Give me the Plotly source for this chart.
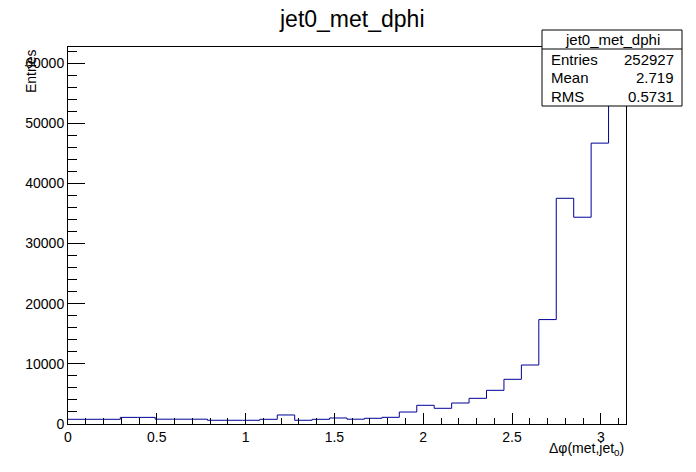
import numpy as np
import plotly.graph_objects as go

# histogram jet0_met_dphi: 32 bins between 0 and pi
N_BINS = 32
X_MIN, X_MAX = 0.0, np.pi
COUNTS = [780, 780, 780, 1100, 1100, 800, 800, 800, 620, 620, 620, 780,
          1500, 620, 780, 1000, 800, 950, 1110, 1990, 3110, 2610, 3490, 4270,
          5600, 7430, 9810, 17360, 37530, 34380, 46700, 59700]

HIST_NAME = "jet0_met_dphi"
STAT_LABELS = ["Entries", "Mean", "RMS"]
STAT_VALUES = ["252927", "2.719", "0.5731"]
X_TITLE = "\u0394\u03c6(met,jet<sub>0</sub>)"
Y_TITLE = "Entries"

W, H = 696, 472
L, R, T, B = 68, 70, 47, 48
FONT = "Liberation Sans, Arial, Helvetica, sans-serif"
LINE_COLOR = "#000099"

edges = np.linspace(X_MIN, X_MAX, N_BINS + 1)
y_step = COUNTS + [COUNTS[-1]]
y_top = max(COUNTS) * 1.05  # ROOT leaves 5% headroom


def px_x(p):
    return (p - L) / (W - L - R)


def px_y(p):
    return (H - B - p) / (H - T - B)


fig = go.Figure()
fig.add_trace(go.Scatter(
    x=edges, y=y_step, mode="lines", line_shape="hv",
    line=dict(color=LINE_COLOR, width=1), showlegend=False,
))

axis_common = dict(
    showgrid=False, zeroline=False, showline=True, linecolor="black",
    linewidth=1, mirror=True, ticks="inside", tickcolor="black", automargin=False,
    tickfont=dict(family=FONT, size=14, color="black"),
)
fig.update_xaxes(range=[X_MIN, X_MAX], dtick=0.5, tick0=0, ticklen=11,
                 minor=dict(ticks="inside", dtick=0.1, ticklen=6, tickcolor="black"),
                 **axis_common)
fig.update_yaxes(range=[0, y_top], dtick=10000, tick0=0, ticklen=17, tickformat="d",
                 minor=dict(ticks="inside", dtick=2000, ticklen=9, tickcolor="black"),
                 **axis_common)

# stats box
bx0, bx1, by0, by1, bsep = px_x(542), px_x(682), px_y(106), px_y(30), px_y(49)
fig.add_shape(type="rect", xref="paper", yref="paper", x0=bx0, x1=bx1,
              y0=by0, y1=by1, fillcolor="white", line=dict(color="black", width=1))
fig.add_shape(type="line", xref="paper", yref="paper", x0=bx0, x1=bx1,
              y0=bsep, y1=bsep, line=dict(color="black", width=1))

annotations = [
    dict(text=HIST_NAME, x=px_x(352), y=px_y(19), font=dict(size=23)),
    dict(text=HIST_NAME, x=(bx0 + bx1) / 2, y=px_y(39), font=dict(size=15)),
]
for i, (lab, val) in enumerate(zip(STAT_LABELS, STAT_VALUES)):
    yc = px_y(59 + i * 18.5)
    annotations.append(dict(text=lab, x=px_x(549), y=yc, xanchor="left", font=dict(size=15)))
    annotations.append(dict(text=val, x=px_x(676), y=yc, xanchor="right", font=dict(size=15)))
annotations.append(dict(text=X_TITLE, x=1.0, y=px_y(449), xanchor="right", font=dict(size=14)))
annotations.append(dict(text=Y_TITLE, x=px_x(31), y=1.0, yanchor="top", textangle=-90,
                        font=dict(size=14)))

for a in annotations:
    a.setdefault("xanchor", "center")
    a.setdefault("yanchor", "middle")
    a["xref"] = "paper"
    a["yref"] = "paper"
    a["showarrow"] = False
    a["font"] = dict(family=FONT, color="black", **a["font"])
fig.update_layout(
    width=W, height=H, margin=dict(l=L, r=R, t=T, b=B),
    paper_bgcolor="white", plot_bgcolor="white",
    annotations=annotations,
)

# drop the default page margin so the figure sits at the window corner
fig.write_html("out.html", config={"displayModeBar": False},
               post_script="document.body.style.margin='0';")
